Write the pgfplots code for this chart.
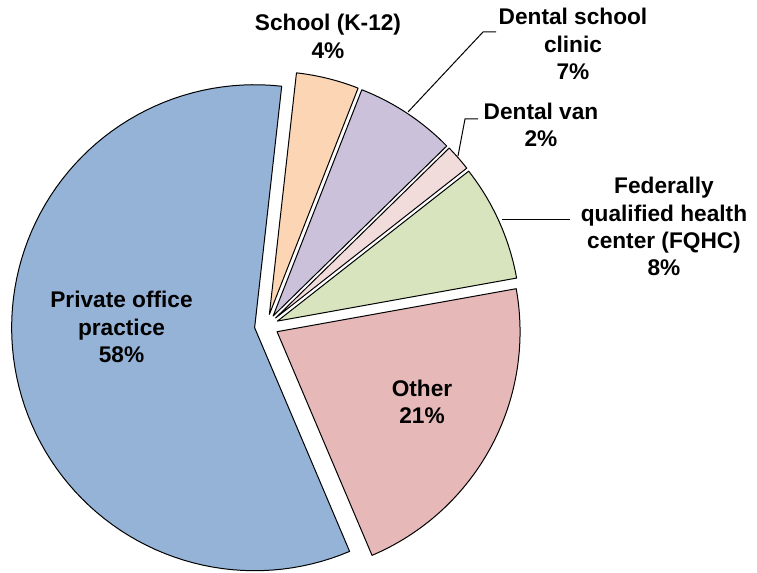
\documentclass[border=0pt]{standalone}
\usepackage{fontspec}
\setmainfont{Liberation Sans}
\usepackage{pgfplots}
\pgfplotsset{compat=1.18}
\definecolor{cPriv}{HTML}{95B3D7}
\definecolor{cOther}{HTML}{E6B9B8}
\definecolor{cFQHC}{HTML}{D7E4BD}
\definecolor{cVan}{HTML}{F2DCDB}
\definecolor{cClinic}{HTML}{CCC1DA}
\definecolor{cSchool}{HTML}{FCD5B5}
% pie geometry (units = px of the reference)
\def\cx{266.5}
\def\cy{247}
\def\R{243}
\def\ex{12}
\def\startangle{6.4}% clockwise from 12 o'clock
% one slice: #1 = share in percent, #2 = colour
\newcommand{\slice}[2]{%
  \pgfmathsetmacro\aE{90-\cum*3.6}%
  \pgfmathsetmacro\aS{90-(\cum+#1)*3.6}%
  \pgfmathsetmacro\aM{(\aS+\aE)/2}%
  \pgfmathsetmacro\ox{\cx+\ex*cos(\aM)}%
  \pgfmathsetmacro\oy{\cy+\ex*sin(\aM)}%
  \edef\doslice{\noexpand\addplot[fill=#2, draw=black, line width=0.75pt, line join=round,
      domain=\aS:\aE, samples=90, variable=\noexpand\t]
      ({\ox+\R*cos(\noexpand\t)},{\oy+\R*sin(\noexpand\t)}) -- (axis cs:\ox,\oy) -- cycle;}%
  \doslice
  \pgfmathsetmacro\newcum{\cum+#1}%
  \xdef\cum{\newcum}%
}
\newcommand{\lbl}{\bfseries\fontsize{17}{20.5}\selectfont}
\begin{document}
\begin{tikzpicture}
\begin{axis}[x=0.75pt, y=0.75pt, xmin=0, xmax=757, ymin=0, ymax=573,
  hide axis, clip=false]
\path (axis cs:0,0) rectangle (axis cs:757,573);
\xdef\cum{1.7778}% = 6.4 deg / 3.6
% shares in percent, clockwise from the first slice
\slice{4.17}{cSchool}
\slice{6.72}{cClinic}
\slice{1.75}{cVan}
\slice{7.75}{cFQHC}
\slice{21.44}{cOther}
\slice{58.17}{cPriv}
% leader lines
\addplot[black, line width=0.75pt] coordinates {(408,461) (483,541) (496,541)};
\addplot[black, line width=0.75pt] coordinates {(458,417) (465,454) (478,454)};
\addplot[black, line width=0.75pt] coordinates {(502,353) (570,353)};
% labels
\node[align=center, font=\lbl] at (axis cs:121.5,246) {Private office\\practice\\58\%};
\node[align=center, font=\lbl] at (axis cs:422,171) {Other\\21\%};
\node[align=center, font=\lbl] at (axis cs:328,536.5) {School (K-12)\\4\%};
\node[align=center, font=\lbl] at (axis cs:573,529) {Dental school\\clinic\\7\%};
\node[align=center, font=\lbl] at (axis cs:541,448) {Dental van\\2\%};
\node[align=center, font=\lbl] at (axis cs:664,346.3) {Federally\\qualified health\\center (FQHC)\\8\%};
\end{axis}
\end{tikzpicture}
\end{document}
